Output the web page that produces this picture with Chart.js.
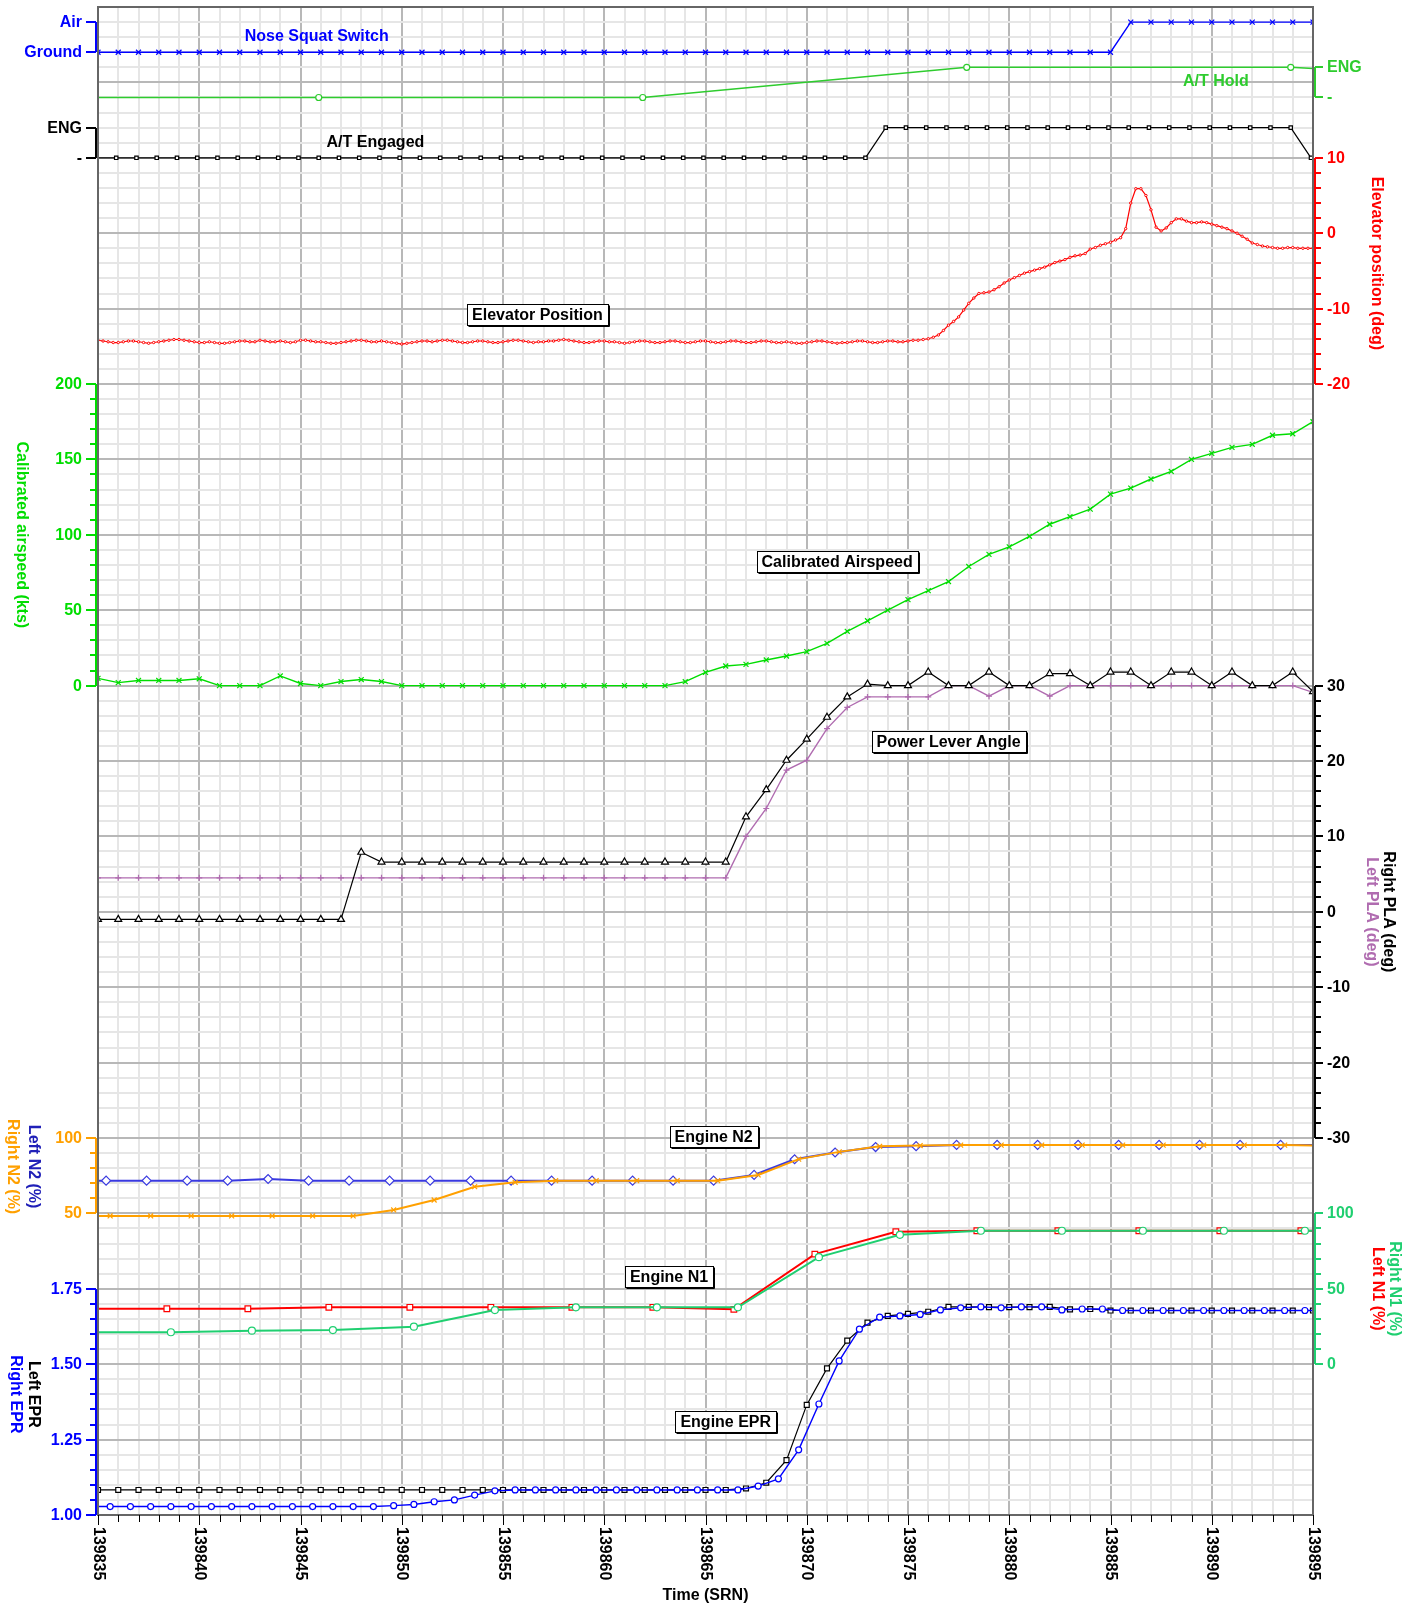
<!DOCTYPE html>
<html>
<head>
<meta charset="utf-8">
<title>Takeoff roll parameters</title>
<script src="https://cdn.jsdelivr.net/npm/chart.js@4.4.1/dist/chart.umd.min.js"></script>
<style>
  html, body { margin: 0; padding: 0; background: #ffffff; }
  canvas { display: block; }
</style>
</head>
<body>
<canvas id="fdr" width="1421" height="1607"></canvas>
<script>
// ---------------- time axis (SRN) ----------------
const timeTickLabels = [139835, 139840, 139845, 139850, 139855, 139860, 139865, 139870, 139875, 139880, 139885, 139890, 139895];

// one-second samples
const secondTimes = [
  139835, 139836, 139837, 139838, 139839, 139840, 139841, 139842, 139843, 139844,
  139845, 139846, 139847, 139848, 139849, 139850, 139851, 139852, 139853, 139854,
  139855, 139856, 139857, 139858, 139859, 139860, 139861, 139862, 139863, 139864,
  139865, 139866, 139867, 139868, 139869, 139870, 139871, 139872, 139873, 139874,
  139875, 139876, 139877, 139878, 139879, 139880, 139881, 139882, 139883, 139884,
  139885, 139886, 139887, 139888, 139889, 139890, 139891, 139892, 139893, 139894,
  139895
];

// ---------------- discrete words ----------------
const squatWords = ['Ground', 'Air'];
const engageWords = ['-', 'ENG'];

// Nose squat switch (0 = Ground, 1 = Air), sampled on secondTimes
const noseSquat = [
  0, 0, 0, 0, 0, 0, 0, 0, 0, 0,
  0, 0, 0, 0, 0, 0, 0, 0, 0, 0,
  0, 0, 0, 0, 0, 0, 0, 0, 0, 0,
  0, 0, 0, 0, 0, 0, 0, 0, 0, 0,
  0, 0, 0, 0, 0, 0, 0, 0, 0, 0,
  0, 1, 1, 1, 1, 1, 1, 1, 1, 1,
  1
];

// A/T hold (0 = -, 1 = ENG)
const atHoldTimes = [139829.9, 139845.9, 139861.9, 139877.9, 139893.9, 139895];
const atHold = [0, 0, 0, 1, 1, 0.96];

// A/T engaged (0 = -, 1 = ENG)
const atEngTimes = [
  139834.9, 139835.9, 139836.9, 139837.9, 139838.9, 139839.9, 139840.9, 139841.9, 139842.9, 139843.9,
  139844.9, 139845.9, 139846.9, 139847.9, 139848.9, 139849.9, 139850.9, 139851.9, 139852.9, 139853.9,
  139854.9, 139855.9, 139856.9, 139857.9, 139858.9, 139859.9, 139860.9, 139861.9, 139862.9, 139863.9,
  139864.9, 139865.9, 139866.9, 139867.9, 139868.9, 139869.9, 139870.9, 139871.9, 139872.9, 139873.9,
  139874.9, 139875.9, 139876.9, 139877.9, 139878.9, 139879.9, 139880.9, 139881.9, 139882.9, 139883.9,
  139884.9, 139885.9, 139886.9, 139887.9, 139888.9, 139889.9, 139890.9, 139891.9, 139892.9, 139893.9,
  139894.9
];
const atEngaged = [
  0, 0, 0, 0, 0, 0, 0, 0, 0, 0,
  0, 0, 0, 0, 0, 0, 0, 0, 0, 0,
  0, 0, 0, 0, 0, 0, 0, 0, 0, 0,
  0, 0, 0, 0, 0, 0, 0, 0, 0, 1,
  1, 1, 1, 1, 1, 1, 1, 1, 1, 1,
  1, 1, 1, 1, 1, 1, 1, 1, 1, 1,
  0
];

// Elevator position (deg), quarter-second samples
const elevTimes = [
  139835.00, 139835.25, 139835.50, 139835.75, 139836.00, 139836.25, 139836.50, 139836.75,
  139837.00, 139837.25, 139837.50, 139837.75, 139838.00, 139838.25, 139838.50, 139838.75,
  139839.00, 139839.25, 139839.50, 139839.75, 139840.00, 139840.25, 139840.50, 139840.75,
  139841.00, 139841.25, 139841.50, 139841.75, 139842.00, 139842.25, 139842.50, 139842.75,
  139843.00, 139843.25, 139843.50, 139843.75, 139844.00, 139844.25, 139844.50, 139844.75,
  139845.00, 139845.25, 139845.50, 139845.75, 139846.00, 139846.25, 139846.50, 139846.75,
  139847.00, 139847.25, 139847.50, 139847.75, 139848.00, 139848.25, 139848.50, 139848.75,
  139849.00, 139849.25, 139849.50, 139849.75, 139850.00, 139850.25, 139850.50, 139850.75,
  139851.00, 139851.25, 139851.50, 139851.75, 139852.00, 139852.25, 139852.50, 139852.75,
  139853.00, 139853.25, 139853.50, 139853.75, 139854.00, 139854.25, 139854.50, 139854.75,
  139855.00, 139855.25, 139855.50, 139855.75, 139856.00, 139856.25, 139856.50, 139856.75,
  139857.00, 139857.25, 139857.50, 139857.75, 139858.00, 139858.25, 139858.50, 139858.75,
  139859.00, 139859.25, 139859.50, 139859.75, 139860.00, 139860.25, 139860.50, 139860.75,
  139861.00, 139861.25, 139861.50, 139861.75, 139862.00, 139862.25, 139862.50, 139862.75,
  139863.00, 139863.25, 139863.50, 139863.75, 139864.00, 139864.25, 139864.50, 139864.75,
  139865.00, 139865.25, 139865.50, 139865.75, 139866.00, 139866.25, 139866.50, 139866.75,
  139867.00, 139867.25, 139867.50, 139867.75, 139868.00, 139868.25, 139868.50, 139868.75,
  139869.00, 139869.25, 139869.50, 139869.75, 139870.00, 139870.25, 139870.50, 139870.75,
  139871.00, 139871.25, 139871.50, 139871.75, 139872.00, 139872.25, 139872.50, 139872.75,
  139873.00, 139873.25, 139873.50, 139873.75, 139874.00, 139874.25, 139874.50, 139874.75,
  139875.00, 139875.25, 139875.50, 139875.75, 139876.00, 139876.25, 139876.50, 139876.75,
  139877.00, 139877.25, 139877.50, 139877.75, 139878.00, 139878.25, 139878.50, 139878.75,
  139879.00, 139879.25, 139879.50, 139879.75, 139880.00, 139880.25, 139880.50, 139880.75,
  139881.00, 139881.25, 139881.50, 139881.75, 139882.00, 139882.25, 139882.50, 139882.75,
  139883.00, 139883.25, 139883.50, 139883.75, 139884.00, 139884.25, 139884.50, 139884.75,
  139885.00, 139885.25, 139885.50, 139885.75, 139886.00, 139886.25, 139886.50, 139886.75,
  139887.00, 139887.25, 139887.50, 139887.75, 139888.00, 139888.25, 139888.50, 139888.75,
  139889.00, 139889.25, 139889.50, 139889.75, 139890.00, 139890.25, 139890.50, 139890.75,
  139891.00, 139891.25, 139891.50, 139891.75, 139892.00, 139892.25, 139892.50, 139892.75,
  139893.00, 139893.25, 139893.50, 139893.75, 139894.00, 139894.25, 139894.50, 139894.75,
  139895.00
];
const elevatorDeg = [
  -14.2, -14.3, -14.4, -14.5, -14.5, -14.4, -14.3, -14.3,
  -14.4, -14.5, -14.6, -14.5, -14.4, -14.3, -14.2, -14.1,
  -14.1, -14.2, -14.3, -14.4, -14.5, -14.5, -14.4, -14.5,
  -14.6, -14.6, -14.5, -14.4, -14.3, -14.3, -14.4, -14.4,
  -14.2, -14.3, -14.4, -14.4, -14.3, -14.4, -14.5, -14.4,
  -14.2, -14.2, -14.3, -14.4, -14.4, -14.5, -14.6, -14.6,
  -14.5, -14.4, -14.3, -14.2, -14.2, -14.3, -14.4, -14.4,
  -14.3, -14.4, -14.5, -14.6, -14.7, -14.6, -14.5, -14.4,
  -14.3, -14.3, -14.4, -14.3, -14.2, -14.2, -14.3, -14.4,
  -14.5, -14.5, -14.4, -14.3, -14.3, -14.4, -14.5, -14.5,
  -14.4, -14.3, -14.2, -14.2, -14.3, -14.4, -14.5, -14.4,
  -14.4, -14.3, -14.3, -14.2, -14.1, -14.2, -14.3, -14.4,
  -14.5, -14.5, -14.4, -14.3, -14.3, -14.4, -14.4, -14.5,
  -14.6, -14.5, -14.4, -14.3, -14.3, -14.4, -14.5, -14.5,
  -14.4, -14.3, -14.3, -14.4, -14.5, -14.5, -14.4, -14.3,
  -14.3, -14.4, -14.5, -14.5, -14.4, -14.3, -14.3, -14.4,
  -14.5, -14.5, -14.4, -14.3, -14.3, -14.4, -14.5, -14.5,
  -14.4, -14.5, -14.6, -14.6, -14.5, -14.4, -14.3, -14.3,
  -14.4, -14.5, -14.6, -14.5, -14.5, -14.4, -14.3, -14.3,
  -14.4, -14.5, -14.5, -14.4, -14.3, -14.3, -14.4, -14.4,
  -14.3, -14.2, -14.2, -14.1, -14.0, -13.8, -13.5, -12.9,
  -12.2, -11.7, -11.1, -10.2, -9.3, -8.6, -8.0, -7.9,
  -7.8, -7.5, -7.1, -6.6, -6.2, -5.9, -5.6, -5.3,
  -5.1, -4.9, -4.7, -4.5, -4.2, -3.9, -3.7, -3.5,
  -3.2, -3.0, -2.9, -2.7, -2.1, -1.9, -1.6, -1.4,
  -1.2, -0.9, -0.6, 0.6, 4.0, 5.9, 5.9, 5.0,
  3.1, 0.8, 0.3, 0.7, 1.4, 1.9, 1.9, 1.6,
  1.4, 1.4, 1.5, 1.4, 1.2, 1.0, 0.8, 0.6,
  0.3, 0.0, -0.4, -0.8, -1.3, -1.5, -1.7, -1.8,
  -1.9, -2.0, -2.0, -1.9, -1.9, -2.0, -2.0, -2.0,
  -2.0
];

// Calibrated airspeed (kts), sampled on secondTimes
const airspeedKts = [
  4.8, 2, 3.4, 3.4, 3.4, 4.5, 0, 0, 0, 6.4,
  1.4, 0, 2.7, 4, 2.7, 0, 0, 0, 0, 0,
  0, 0, 0, 0, 0, 0, 0, 0, 0, 2.6,
  8.8, 13, 14.1, 17, 19.6, 22.5, 28, 36, 43, 50,
  57, 63, 69, 79, 87, 92, 99, 107, 112, 117,
  127, 131, 137, 142, 150, 154, 158, 160, 166, 167,
  175
];

// Power lever angle (deg), sampled on secondTimes
const rightPLA = [
  -1, -1, -1, -1, -1, -1, -1, -1, -1, -1,
  -1, -1, -1, 7.9, 6.6, 6.6, 6.6, 6.6, 6.6, 6.6,
  6.6, 6.6, 6.6, 6.6, 6.6, 6.6, 6.6, 6.6, 6.6, 6.6,
  6.6, 6.6, 12.6, 16.2, 20.1, 22.9, 25.8, 28.5, 30.2, 30,
  30, 31.8, 30, 30, 31.8, 30, 30, 31.6, 31.6, 30,
  31.8, 31.8, 30, 31.8, 31.8, 30, 31.8, 30, 30, 31.8,
  29.2
];
const leftPLA = [
  4.5, 4.5, 4.5, 4.5, 4.5, 4.5, 4.5, 4.5, 4.5, 4.5,
  4.5, 4.5, 4.5, 4.5, 4.5, 4.5, 4.5, 4.5, 4.5, 4.5,
  4.5, 4.5, 4.5, 4.5, 4.5, 4.5, 4.5, 4.5, 4.5, 4.5,
  4.5, 4.5, 10, 13.7, 18.8, 20.1, 24.3, 27.1, 28.5, 28.5,
  28.5, 28.5, 30, 30, 28.6, 30, 30, 28.6, 30, 30,
  30, 30, 30, 30, 30, 30, 30, 30, 30, 30,
  29.1
];

// Engine N2 (%)
const leftN2Times = [
  139833.4, 139835.4, 139837.4, 139839.4, 139841.4, 139843.4, 139845.4, 139847.4,
  139849.4, 139851.4, 139853.4, 139855.4, 139857.4, 139859.4, 139861.4, 139863.4,
  139865.4, 139867.4, 139869.4, 139871.4, 139873.4, 139875.4, 139877.4, 139879.4,
  139881.4, 139883.4, 139885.4, 139887.4, 139889.4, 139891.4, 139893.4, 139895.4
];
const leftN2 = [
  71.7, 71.7, 71.7, 71.7, 71.7, 72.8, 71.7, 71.7,
  71.7, 71.7, 71.7, 71.7, 71.7, 71.7, 71.7, 71.7,
  71.7, 75.5, 85.9, 90.4, 94.0, 94.6, 95.4, 95.4,
  95.4, 95.4, 95.4, 95.4, 95.4, 95.4, 95.4, 95.4
];
const rightN2Times = [
  139833.6, 139835.6, 139837.6, 139839.6, 139841.6, 139843.6, 139845.6, 139847.6,
  139849.6, 139851.6, 139853.6, 139855.6, 139857.6, 139859.6, 139861.6, 139863.6,
  139865.6, 139867.6, 139869.6, 139871.6, 139873.6, 139875.6, 139877.6, 139879.6,
  139881.6, 139883.6, 139885.6, 139887.6, 139889.6, 139891.6, 139893.6, 139895.6
];
const rightN2 = [
  48.3, 48.3, 48.3, 48.3, 48.3, 48.3, 48.3, 48.3,
  52.3, 58.9, 67.7, 70.6, 71.7, 71.7, 71.7, 71.7,
  71.7, 75.5, 86.0, 90.8, 94.5, 95.0, 95.3, 95.3,
  95.3, 95.3, 95.3, 95.3, 95.3, 95.3, 95.3, 95.0
];

// Engine N1 (%)
const rightN1Times = [
  139830.6, 139834.6, 139838.6, 139842.6, 139846.6, 139850.6, 139854.6, 139858.6, 139862.6,
  139866.6, 139870.6, 139874.6, 139878.6, 139882.6, 139886.6, 139890.6, 139894.6, 139898.6
];
const rightN1 = [21.2, 21.2, 21.2, 22.2, 22.6, 24.9, 35.9, 37.7, 37.7, 37.7, 71, 85.8, 88.5, 88.5, 88.5, 88.5, 88.5, 88.5];
const leftN1Times = [
  139830.4, 139834.4, 139838.4, 139842.4, 139846.4, 139850.4, 139854.4, 139858.4, 139862.4,
  139866.4, 139870.4, 139874.4, 139878.4, 139882.4, 139886.4, 139890.4, 139894.4, 139898.4
];
const leftN1 = [36.8, 36.8, 36.8, 36.8, 37.7, 37.7, 37.7, 37.7, 37.7, 36.4, 73, 87.8, 88.5, 88.5, 88.5, 88.5, 88.5, 88.5];

// Engine EPR
const leftEPR = [
  1.083, 1.083, 1.083, 1.083, 1.083, 1.083, 1.083, 1.083, 1.083, 1.083,
  1.083, 1.083, 1.083, 1.083, 1.083, 1.083, 1.083, 1.083, 1.083, 1.083,
  1.083, 1.083, 1.083, 1.083, 1.083, 1.083, 1.083, 1.083, 1.083, 1.083,
  1.083, 1.083, 1.088, 1.107, 1.182, 1.365, 1.486, 1.578, 1.638, 1.660,
  1.667, 1.674, 1.690, 1.690, 1.689, 1.689, 1.689, 1.690, 1.682, 1.683,
  1.678, 1.678, 1.678, 1.678, 1.678, 1.678, 1.678, 1.678, 1.678, 1.678,
  1.678
];
const rightEPRTimes = [
  139834.6, 139835.6, 139836.6, 139837.6, 139838.6, 139839.6, 139840.6, 139841.6, 139842.6, 139843.6,
  139844.6, 139845.6, 139846.6, 139847.6, 139848.6, 139849.6, 139850.6, 139851.6, 139852.6, 139853.6,
  139854.6, 139855.6, 139856.6, 139857.6, 139858.6, 139859.6, 139860.6, 139861.6, 139862.6, 139863.6,
  139864.6, 139865.6, 139866.6, 139867.6, 139868.6, 139869.6, 139870.6, 139871.6, 139872.6, 139873.6,
  139874.6, 139875.6, 139876.6, 139877.6, 139878.6, 139879.6, 139880.6, 139881.6, 139882.6, 139883.6,
  139884.6, 139885.6, 139886.6, 139887.6, 139888.6, 139889.6, 139890.6, 139891.6, 139892.6, 139893.6,
  139894.6, 139895.6
];
const rightEPR = [
  1.028, 1.028, 1.028, 1.028, 1.028, 1.028, 1.028, 1.028, 1.028, 1.028,
  1.028, 1.028, 1.028, 1.028, 1.028, 1.031, 1.035, 1.044, 1.050, 1.066,
  1.080, 1.083, 1.083, 1.083, 1.083, 1.083, 1.083, 1.083, 1.083, 1.083,
  1.083, 1.083, 1.083, 1.096, 1.120, 1.216, 1.368, 1.511, 1.616, 1.656,
  1.660, 1.665, 1.680, 1.687, 1.690, 1.687, 1.690, 1.690, 1.680, 1.683,
  1.683, 1.678, 1.678, 1.678, 1.678, 1.678, 1.678, 1.678, 1.678, 1.678,
  1.678, 1.678
];

// ---------------- styling ----------------
const FONT_FAMILY = '"Liberation Sans", Arial, Helvetica, sans-serif';
const font = (px) => `bold ${px}px ${FONT_FAMILY}`;

const C = {
  squat: '#0000ff',
  hold: '#2ecc2e',
  engaged: '#000000',
  elev: '#ff0000',
  cas: '#00dd00',
  plaR: '#000000',
  plaL: '#b06cb0',
  n2L: '#3a3ae0',
  n2LText: '#2020b8',
  n2R: '#ffa000',
  n1R: '#1fcf70',
  n1L: '#ff0000',
  eprL: '#000000',
  eprR: '#0000ff',
  gridMajor: '#b8b8b8',
  gridMinor: '#e6e6e6',
  frame: '#666666'
};

const X_MIN = 139835, X_MAX = 139895;

// Each trace lives in its own horizontal strip of a 0..100 grid (5 grid units per major line).
// A strip is given by two values and the grid rows they sit on.
function stripScale(v0, u0, v1, u1) {
  const per = (v1 - v0) / (u1 - u0);
  return { type: 'linear', axis: 'y', display: false, min: v0 - u0 * per, max: v0 + (100 - u0) * per };
}

function pts(times, values) { return times.map((t, i) => ({ x: t, y: values[i] })); }

function trace(o) {
  return Object.assign({
    type: 'line', tension: 0, fill: false, clip: 0, borderWidth: 1.4,
    pointBackgroundColor: '#ffffff', pointBorderWidth: 1.2, pointHoverRadius: 0,
    borderColor: o.color, pointBorderColor: o.color
  }, o);
}

// axis brackets drawn beside each strip
const stripAxes = [
  { id: 'ySquat', side: 'left', color: C.squat, lo: 0, hi: 1, step: 1, every: 1, word: squatWords },
  { id: 'yEng', side: 'left', color: C.engaged, lo: 0, hi: 1, step: 1, every: 1, word: engageWords },
  { id: 'yCas', side: 'left', color: C.cas, lo: 0, hi: 200, step: 10, every: 5 },
  { id: 'yN2', side: 'left', color: C.n2R, lo: 50, hi: 100, step: 10, every: 5 },
  { id: 'yEpr', side: 'left', color: C.eprR, lo: 1, hi: 1.75, step: 0.05, every: 5, digits: 2 },
  { id: 'yHold', side: 'right', color: C.hold, lo: 0, hi: 1, step: 1, every: 1, word: engageWords },
  { id: 'yElev', side: 'right', color: C.elev, lo: -20, hi: 10, step: 2, every: 5 },
  { id: 'yPla', side: 'right', color: C.plaR, lo: -30, hi: 30, step: 2, every: 5 },
  { id: 'yN1', side: 'right', color: C.n1R, lo: 0, hi: 100, step: 10, every: 5 }
];

// rotated axis titles: strip, value at the title centre, distance from the plot edge
const axisTitles = [
  { id: 'yCas', side: 'left', at: 100, dist: 77, text: 'Calibrated airspeed (kts)', color: C.cas },
  { id: 'yN2', side: 'left', at: 81, dist: 65, text: 'Left N2 (%)', color: C.n2LText },
  { id: 'yN2', side: 'left', at: 81, dist: 86, text: 'Right N2 (%)', color: C.n2R },
  { id: 'yEpr', side: 'left', at: 1.40, dist: 65, text: 'Left EPR', color: C.eprL },
  { id: 'yEpr', side: 'left', at: 1.40, dist: 83, text: 'Right EPR', color: C.eprR },
  { id: 'yElev', side: 'right', at: -4, dist: 63, text: 'Elevator position (deg)', color: C.elev },
  { id: 'yPla', side: 'right', at: 0, dist: 75, text: 'Right PLA (deg)', color: C.plaR },
  { id: 'yPla', side: 'right', at: 0, dist: 58, text: 'Left PLA (deg)', color: C.plaL },
  { id: 'yN1', side: 'right', at: 50, dist: 81, text: 'Right N1 (%)', color: C.n1R },
  { id: 'yN1', side: 'right', at: 50, dist: 64, text: 'Left N1 (%)', color: C.n1L }
];

// trace names inside the plot (x in SRN, u in grid rows)
const traceNames = [
  { text: 'Nose Squat Switch', x: 139845.8, u: 98.1, color: C.squat, box: false },
  { text: 'A/T Hold', x: 139890.2, u: 95.1, color: C.hold, box: false },
  { text: 'A/T Engaged', x: 139848.7, u: 91.1, color: '#000000', box: false },
  { text: 'Elevator Position', x: 139856.7, u: 79.6, box: true },
  { text: 'Calibrated Airspeed', x: 139871.5, u: 63.2, box: true },
  { text: 'Power Lever Angle', x: 139877.0, u: 51.3, box: true },
  { text: 'Engine N2', x: 139865.4, u: 25.1, box: true },
  { text: 'Engine N1', x: 139863.2, u: 15.8, box: true },
  { text: 'Engine EPR', x: 139866.0, u: 6.2, box: true }
];

const decor = {
  id: 'decor',
  afterDatasetsDraw(chart) {
    const { ctx, chartArea: ca, scales } = chart;
    ctx.save();

    // plot frame
    ctx.strokeStyle = C.frame;
    ctx.lineWidth = 2;
    ctx.strokeRect(ca.left, ca.top, ca.right - ca.left, ca.bottom - ca.top);

    // strip axes
    ctx.font = font(16);
    ctx.textBaseline = 'middle';
    stripAxes.forEach(a => {
      const s = scales[a.id];
      const left = a.side === 'left';
      const x0 = left ? ca.left - 2 : ca.right + 2;
      const dir = left ? -1 : 1;
      ctx.strokeStyle = a.color;
      ctx.fillStyle = a.color;
      ctx.lineWidth = 2;
      ctx.beginPath();
      ctx.moveTo(x0, Math.round(s.getPixelForValue(a.hi)));
      ctx.lineTo(x0, Math.round(s.getPixelForValue(a.lo)));
      ctx.stroke();
      const n = Math.round((a.hi - a.lo) / a.step);
      for (let i = 0; i <= n; i++) {
        const v = a.lo + i * a.step;
        const y = Math.round(s.getPixelForValue(v));
        const major = i % a.every === 0;
        const len = major ? (left ? 10 : 8) : 6;
        ctx.beginPath();
        ctx.moveTo(x0, y);
        ctx.lineTo(x0 + dir * len, y);
        ctx.stroke();
        if (major) {
          const label = a.word ? a.word[Math.round(v)] : (a.digits ? v.toFixed(a.digits) : String(Math.round(v)));
          ctx.textAlign = left ? 'right' : 'left';
          ctx.fillText(label, left ? x0 - 14 : x0 + 12, y + 1);
        }
      }
    });

    // axis titles, turned clockwise
    axisTitles.forEach(t => {
      const y = scales[t.id].getPixelForValue(t.at);
      const x = t.side === 'left' ? ca.left - t.dist : ca.right + t.dist;
      ctx.save();
      ctx.translate(x, y);
      ctx.rotate(Math.PI / 2);
      ctx.textAlign = 'center';
      ctx.textBaseline = 'middle';
      ctx.fillStyle = t.color;
      ctx.fillText(t.text, 0, 0);
      ctx.restore();
    });

    // time ticks and labels
    const xs = scales.x;
    ctx.strokeStyle = '#000000';
    ctx.lineWidth = 1;
    xs.ticks.forEach(tk => {
      const x = Math.round(xs.getPixelForValue(tk.value)) + 0.5;
      const len = tk.value % 5 === 0 ? 10 : 7;
      ctx.beginPath();
      ctx.moveTo(x, ca.bottom);
      ctx.lineTo(x, ca.bottom + len);
      ctx.stroke();
    });
    ctx.fillStyle = '#000000';
    timeTickLabels.forEach(v => {
      const x = xs.getPixelForValue(v);
      ctx.save();
      ctx.translate(x, ca.bottom + 12);
      ctx.rotate(Math.PI / 2);
      ctx.textAlign = 'left';
      ctx.textBaseline = 'middle';
      ctx.fillText(String(v), 0, 0);
      ctx.restore();
    });

    // trace names
    traceNames.forEach(l => {
      const x = xs.getPixelForValue(l.x);
      const y = scales.g.getPixelForValue(l.u);
      ctx.font = font(16);
      const w = ctx.measureText(l.text).width;
      if (l.box) {
        const bw = Math.round(w + 10), bh = 21;
        const bx = Math.round(x - bw / 2) + 0.5, by = Math.round(y - bh / 2) + 0.5;
        ctx.fillStyle = '#ffffff';
        ctx.fillRect(bx, by, bw, bh);
        ctx.strokeStyle = '#000000';
        ctx.lineWidth = 1;
        ctx.strokeRect(bx, by, bw, bh);
        ctx.beginPath();
        ctx.moveTo(bx + 1, by + bh + 1);
        ctx.lineTo(bx + bw + 1, by + bh + 1);
        ctx.lineTo(bx + bw + 1, by + 1);
        ctx.stroke();
      }
      ctx.fillStyle = l.color || '#000000';
      ctx.textAlign = 'center';
      ctx.textBaseline = 'middle';
      ctx.fillText(l.text, x, y + 1);
    });

    ctx.restore();
  }
};

const gridColor = (ctx) => (Math.round(ctx.tick.value) % 5 === 0 ? C.gridMajor : C.gridMinor);

new Chart(document.getElementById('fdr'), {
  type: 'line',
  data: {
    datasets: [
      trace({ label: 'Nose Squat Switch', data: pts(secondTimes, noseSquat), yAxisID: 'ySquat', color: C.squat, pointStyle: 'crossRot', pointRadius: 3.5 }),
      trace({ label: 'A/T Hold', data: pts(atHoldTimes, atHold), yAxisID: 'yHold', color: C.hold, pointStyle: 'circle',
              pointRadius: (c) => (c.raw && c.raw.x >= X_MAX ? 0 : 3) }),
      trace({ label: 'A/T Engaged', data: pts(atEngTimes, atEngaged), yAxisID: 'yEng', color: C.engaged, pointStyle: 'rect', pointRadius: 2.4, borderWidth: 1.2 }),
      trace({ label: 'Elevator Position', data: pts(elevTimes, elevatorDeg), yAxisID: 'yElev', color: C.elev, pointStyle: 'circle', pointRadius: 1.2, pointBorderWidth: 1, borderWidth: 1.2 }),
      trace({ label: 'Calibrated Airspeed', data: pts(secondTimes, airspeedKts), yAxisID: 'yCas', color: C.cas, pointStyle: 'crossRot', pointRadius: 3.5 }),
      trace({ label: 'Right PLA', data: pts(secondTimes, rightPLA), yAxisID: 'yPla', color: C.plaR, pointStyle: 'triangle', pointRadius: 4, borderWidth: 1.2 }),
      trace({ label: 'Left PLA', data: pts(secondTimes, leftPLA), yAxisID: 'yPla', color: C.plaL, pointStyle: 'cross', pointRadius: 3 }),
      trace({ label: 'Right N2', data: pts(rightN2Times, rightN2), yAxisID: 'yN2', color: C.n2R, pointStyle: 'crossRot', pointRadius: 3.5, borderWidth: 2 }),
      trace({ label: 'Left N2', data: pts(leftN2Times, leftN2), yAxisID: 'yN2', color: C.n2L, pointStyle: 'rectRot', pointRadius: 4.5, borderWidth: 2 }),
      trace({ label: 'Right N1', data: pts(rightN1Times, rightN1), yAxisID: 'yN1', color: C.n1R, pointStyle: 'circle', pointRadius: 3.5, borderWidth: 2 }),
      trace({ label: 'Left N1', data: pts(leftN1Times, leftN1), yAxisID: 'yN1', color: C.n1L, pointStyle: 'rect', pointRadius: 4, borderWidth: 2 }),
      trace({ label: 'Right EPR', data: pts(rightEPRTimes, rightEPR), yAxisID: 'yEpr', color: C.eprR, pointStyle: 'circle', pointRadius: 3 }),
      trace({ label: 'Left EPR', data: pts(secondTimes, leftEPR), yAxisID: 'yEpr', color: C.eprL, pointStyle: 'rect', pointRadius: 3.5, borderWidth: 1.2 })
    ]
  },
  options: {
    responsive: false,
    animation: false,
    devicePixelRatio: 1,
    events: [],
    layout: { padding: { left: 98, right: 108, top: 7, bottom: 0 } },
    plugins: { legend: { display: false }, tooltip: { enabled: false } },
    scales: {
      x: {
        type: 'linear', position: 'bottom', min: X_MIN, max: X_MAX,
        ticks: { display: false, stepSize: 1, autoSkip: false },
        grid: { color: gridColor, lineWidth: 2, drawTicks: false },
        border: { display: false },
        title: { display: true, text: 'Time (SRN)', color: '#000000', font: { family: FONT_FAMILY, size: 16, weight: 'bold' }, padding: { top: 0, bottom: 2 } },
        afterFit: (s) => { s.height = 92; }
      },
      g: {
        type: 'linear', axis: 'y', position: 'left', min: 0, max: 100,
        ticks: { display: false, stepSize: 1 },
        grid: { color: gridColor, lineWidth: 2, drawTicks: false },
        border: { display: false },
        afterFit: (s) => { s.width = 0; }
      },
      ySquat: stripScale(0, 97, 1, 99),
      yHold: stripScale(0, 94, 1, 96),
      yEng: stripScale(0, 90, 1, 92),
      yElev: stripScale(-20, 75, 10, 90),
      yCas: stripScale(0, 55, 200, 75),
      yPla: stripScale(-30, 25, 30, 55),
      yN2: stripScale(50, 20, 100, 25),
      yN1: stripScale(0, 10, 100, 20),
      yEpr: stripScale(1, 0, 1.75, 15)
    }
  },
  plugins: [decor]
});
</script>
</body>
</html>
